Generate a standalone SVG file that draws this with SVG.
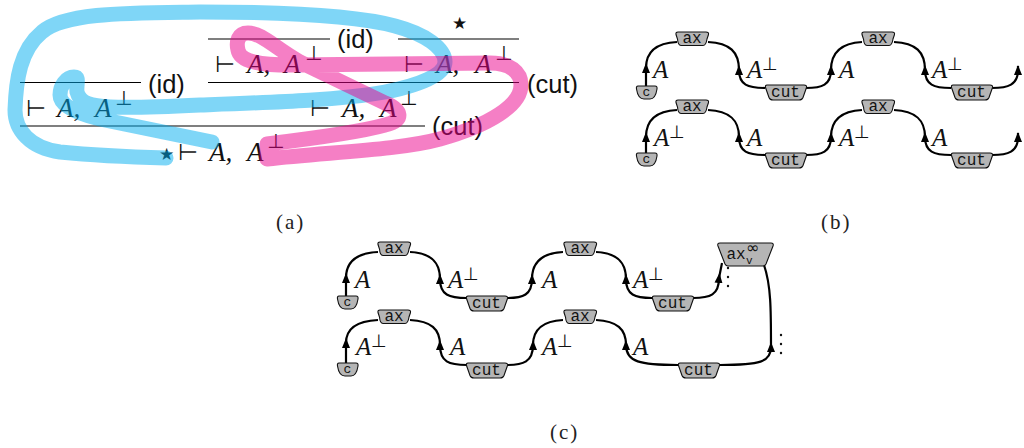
<svg xmlns="http://www.w3.org/2000/svg" xmlns:xlink="http://www.w3.org/1999/xlink" width="1024" height="448" viewBox="0 0 1024 448">
<style>
.rule{stroke:#000;stroke-width:1.2;fill:none}
.m{font:italic 25px "Liberation Serif",serif;fill:#111}
.ma{font:italic 27px "Liberation Serif",serif;fill:#111}
.p{font:18px "DejaVu Sans",sans-serif;fill:#111}
.pa{font:20px "DejaVu Sans",sans-serif;fill:#111}
.t{font:23px "DejaVu Sans",sans-serif;fill:#111}
.s{font:25.500px "Liberation Sans",sans-serif;fill:#111}
.st{font:17px "DejaVu Sans",sans-serif;fill:#111}
.cap{font:21px "Liberation Serif",serif;fill:#222;letter-spacing:2px}
.l{font:16px "Liberation Mono",monospace;fill:#111;text-anchor:middle}
.sm{font:11px "Liberation Mono",monospace;fill:#111}
.shape{fill:#b5b5b5;stroke:#111;stroke-width:1.1}
.w{fill:none;stroke:#000;stroke-width:2.2;marker-mid:url(#arr)}
.w0{fill:none;stroke:#000;stroke-width:2.2}
.hl{fill:none;stroke-width:15;stroke-linecap:round;stroke-linejoin:round;opacity:.5}
.dot{fill:#111}
</style>
<defs>
<marker id="arr" markerUnits="userSpaceOnUse" markerWidth="12" markerHeight="12" refX="5" refY="6" orient="auto"><path d="M0 2 L10 6 L0 10 Z" fill="#000"/></marker>
<path id="sax" class="shape" d="M2 0 H30 Q33 0 32.5 2.5 L31 7 Q30 13.5 27 13.5 H5 Q2 13.5 1.500 7 L0 2.500 Q-.5 0 2 0Z"/>
<path id="scut" class="shape" d="M2 0 H39 Q42 0 41.500 2.500 L38 12.500 Q37 15 34 15 H8 Q5 15 4 12.500 L.5 2.500 Q0 0 2 0Z"/>
<path id="sc" class="shape" d="M2 0 H19 Q21.500 0 21 3 Q19.500 13 14 13 H8 Q2 13 .5 3 Q0 0 2 0Z"/>
</defs>

<g id="proof-a">
<line class="rule" x1="20" y1="82.500" x2="141" y2="82.500"/>
<line class="rule" x1="20" y1="126" x2="425" y2="126"/>
<line class="rule" x1="208" y1="39" x2="330" y2="39"/>
<line class="rule" x1="398" y1="39" x2="519" y2="39"/>
<line class="rule" x1="208" y1="82.500" x2="519" y2="82.500"/>
<text class="t" x="26" y="116">⊢</text><text class="ma" x="57" y="117">A,</text><text class="ma" x="95" y="117">A</text><text class="pa" x="115" y="105">⊥</text>
<text class="s" x="148" y="93">(id)</text>
<text class="t" x="178" y="160">⊢</text><text class="ma" x="209" y="161">A,</text><text class="ma" x="247" y="161">A</text><text class="pa" x="267" y="148">⊥</text>
<text class="st" x="159" y="160">★</text>
<text class="t" x="215" y="72">⊢</text><text class="ma" x="247" y="73">A,</text><text class="ma" x="284" y="73">A</text><text class="pa" x="305" y="60">⊥</text>
<text class="s" x="337" y="48">(id)</text>
<text class="t" x="404" y="72">⊢</text><text class="ma" x="436" y="73">A,</text><text class="ma" x="475" y="73">A</text><text class="pa" x="495" y="60">⊥</text>
<text class="st" x="452" y="29">★</text>
<text class="t" x="310" y="116">⊢</text><text class="ma" x="342" y="117">A,</text><text class="ma" x="380" y="117">A</text><text class="pa" x="400" y="105">⊥</text>
<text class="s" x="527" y="93">(cut)</text>
<text class="s" x="432" y="135">(cut)</text>
</g>
<g id="highlights">
<path class="hl" stroke="#00aeef" d="M166 158 C130 157 90 155 60 152 C30 148 15 130 15 110 C16 80 20 50 42 32 C65 12 130 13 200 12 C270 12 350 14 395 26 C425 34 445 48 445 62 C445 75 420 85 385 92 C340 100 280 102 200 105 C160 107 130 108 110 107 C92 106 80 104 77 92 C76 84 80 77 74 77 C66 77 60 86 60 95 C60 105 75 113 100 119 L212 142"/>
<path class="hl" stroke="#ec008c" d="M267 144 C300 140 360 132 385 125 C405 120 402 110 385 103 L300 62 C275 48 262 33 248 33 C238 33 236 42 238 50 C240 62 262 65 290 65 L490 63 C510 63 521 72 521 85 C521 105 490 125 440 139 C400 150 330 152 267 159 Z"/>
</g>
<text class="cap" x="276" y="229">(a)</text>
<text class="cap" x="821" y="229">(b)</text>
<text class="cap" x="550" y="439">(c)</text>

<g id="connectors">
<path class="w" d="M646 86 L646 68 C646 52 656 43 677 42"/>
<path class="w" d="M765 88 C748 88 739 85 739 70 C739 52 730 43 708 42"/>
<path class="w" d="M806 88 C822 88 831 85 831 70 C831 52 842 43 862 42"/>
<path class="w" d="M951 88 C934 88 925 85 925 70 C925 52 916 43 894 42"/>
<path class="w" d="M992 88 C1008 88 1018 85 1018 70 L1018 66"/>
<path class="w" d="M646 153 L646 137 C646 120 656 111 677 110"/>
<path class="w" d="M765 155 C748 155 739 152 739 137 C739 120 730 111 708 110"/>
<path class="w" d="M806 155 C822 155 831 152 831 137 C831 120 842 111 862 110"/>
<path class="w" d="M951 155 C934 155 925 152 925 137 C925 120 916 111 894 110"/>
<path class="w" d="M992 155 C1008 155 1018 152 1018 137 L1018 133"/>
<path class="w" d="M346 296 L346 278 C346 262 356 253 378 252"/>
<path class="w" d="M467 298 C449 298 440 295 440 279 C440 262 431 253 410 252"/>
<path class="w" d="M507 298 C523 298 532 295 532 279 C532 262 543 253 563 252"/>
<path class="w" d="M652 298 C635 298 626 295 626 279 C626 262 617 253 596 252"/>
<path class="w" d="M693 298 C710 298 719 295 719 278 L722 263"/>
<path class="w" d="M346 363 L346 343 C346 329 356 321 378 320"/>
<path class="w" d="M467 365 C449 365 440 362 440 345 C440 329 431 321 410 320"/>
<path class="w" d="M507 365 C523 365 533 362 533 345 C533 329 543 321 563 320"/>
<path class="w" d="M678 365 C640 365 626 362 626 345 C626 329 617 321 596 320"/>
<path class="w" d="M720 365 C760 365 771 362 771 347 C771 310 771 285 764 265"/>
</g>

<g id="b-c1"><use xlink:href="#sc" href="#sc" x="636" y="86"/><text class="l" x="646.500" y="96" style="font-size:13px">c</text></g>
<g id="b-ax1"><use href="#sax" x="676" y="32"/><text class="l" x="692" y="43">ax</text></g>
<g id="b-cut1"><use href="#scut" x="765" y="85"/><text class="l" x="785.500" y="97">cut</text></g>
<g id="b-ax2"><use href="#sax" x="862" y="32"/><text class="l" x="878" y="43">ax</text></g>
<g id="b-cut2"><use href="#scut" x="951" y="85"/><text class="l" x="971.500" y="97">cut</text></g>
<g id="b-c2"><use href="#sc" x="636" y="153"/><text class="l" x="646.500" y="163" style="font-size:13px">c</text></g>
<g id="b-ax3"><use href="#sax" x="676" y="100"/><text class="l" x="692" y="111">ax</text></g>
<g id="b-cut3"><use href="#scut" x="765" y="153"/><text class="l" x="785.500" y="165">cut</text></g>
<g id="b-ax4"><use href="#sax" x="862" y="100"/><text class="l" x="878" y="111">ax</text></g>
<g id="b-cut4"><use href="#scut" x="951" y="153"/><text class="l" x="971.500" y="165">cut</text></g>

<g id="c-c1"><use href="#sc" x="337" y="296"/><text class="l" x="347.500" y="306" style="font-size:13px">c</text></g>
<g id="c-ax1"><use href="#sax" x="378" y="242"/><text class="l" x="394" y="253">ax</text></g>
<g id="c-cut1"><use href="#scut" x="466" y="296"/><text class="l" x="486.500" y="308">cut</text></g>
<g id="c-ax2"><use href="#sax" x="564" y="242"/><text class="l" x="580" y="253">ax</text></g>
<g id="c-cut2"><use href="#scut" x="652" y="296"/><text class="l" x="672.500" y="308">cut</text></g>
<g id="c-axinf"><path class="shape" d="M720 243 H771 Q774 243 773 246 L766 264 Q765 266 763 266 H728 Q726 266 725 264 L718 246 Q717 243 720 243Z"/><text class="l" x="736" y="259">ax</text><text class="sm" x="746" y="264">v</text><text class="p" x="746" y="253" style="font-size:16px">∞</text></g>
<g id="c-c2"><use href="#sc" x="337" y="363"/><text class="l" x="347.500" y="373" style="font-size:13px">c</text></g>
<g id="c-ax3"><use href="#sax" x="378" y="310"/><text class="l" x="394" y="321">ax</text></g>
<g id="c-cut3"><use href="#scut" x="466" y="363"/><text class="l" x="486.500" y="375">cut</text></g>
<g id="c-ax4"><use href="#sax" x="564" y="310"/><text class="l" x="580" y="321">ax</text></g>
<g id="c-cut4"><use href="#scut" x="678" y="363"/><text class="l" x="698.500" y="375">cut</text></g>

<g id="wire-labels">
<text class="m" x="653" y="78">A</text>
<text class="m" x="747" y="78">A</text><text class="p" x="762" y="70">⊥</text>
<text class="m" x="839" y="78">A</text>
<text class="m" x="932" y="78">A</text><text class="p" x="947" y="70">⊥</text>
<text class="m" x="654" y="146">A</text><text class="p" x="669" y="138">⊥</text>
<text class="m" x="747" y="146">A</text>
<text class="m" x="839" y="146">A</text><text class="p" x="854" y="138">⊥</text>
<text class="m" x="932" y="146">A</text>
<text class="m" x="355" y="288">A</text>
<text class="m" x="448" y="288">A</text><text class="p" x="463" y="280">⊥</text>
<text class="m" x="542" y="288">A</text>
<text class="m" x="633" y="288">A</text><text class="p" x="648" y="280">⊥</text>
<text class="m" x="356" y="355">A</text><text class="p" x="371" y="347">⊥</text>
<text class="m" x="450" y="355">A</text>
<text class="m" x="542" y="355">A</text><text class="p" x="557" y="347">⊥</text>
<text class="m" x="633" y="355">A</text>
</g>
<g id="dots">
<circle class="dot" cx="728" cy="268" r="1.200"/><circle class="dot" cx="728" cy="277" r="1.200"/><circle class="dot" cx="728" cy="286" r="1.200"/>
<circle class="dot" cx="781" cy="335" r="1.200"/><circle class="dot" cx="781" cy="344" r="1.200"/><circle class="dot" cx="781" cy="353" r="1.200"/>
</g>
</svg>
